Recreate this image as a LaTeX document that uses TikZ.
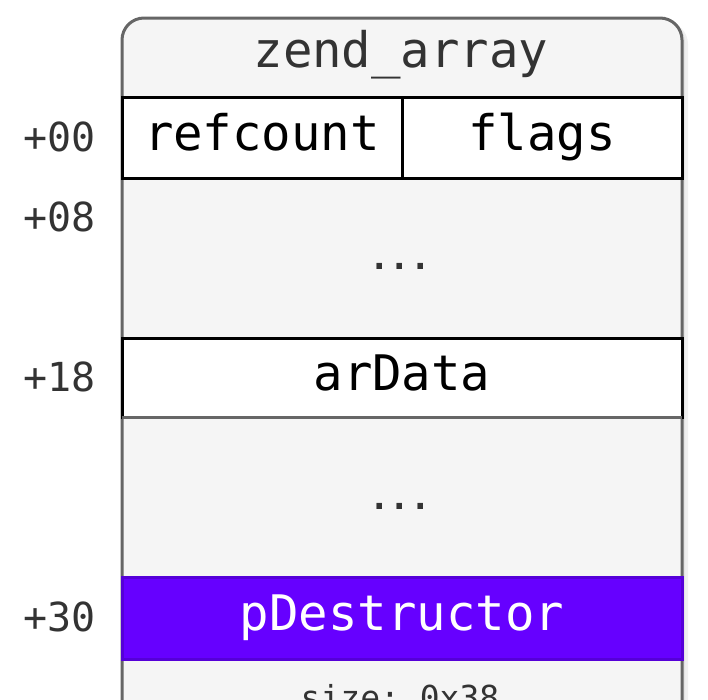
\documentclass[tikz,border=0pt]{standalone}
\usepackage{fontspec}
\setmonofont{DejaVu Sans Mono}
\begin{document}
\begin{tikzpicture}[x=1pt,y=-1pt,
  cell/.style={draw=black,line width=3pt,fill=white,minimum height=81pt,inner sep=0pt,outer sep=0pt,anchor=north west,
    text height=35pt,text depth=10pt,
    font=\ttfamily\fontsize{49}{52}\selectfont,text=black},
  offs/.style={anchor=east,inner sep=0pt,font=\ttfamily\fontsize{40}{44}\selectfont,text=txtgray},
  dots/.style={inner sep=0pt,font=\ttfamily\bfseries\fontsize{34}{38}\selectfont,text=txtgray}]
\definecolor{txtgray}{HTML}{333333}
\definecolor{boxgray}{HTML}{666666}
\definecolor{bgbox}{HTML}{F5F5F5}
\definecolor{purp}{HTML}{6600FF}
\definecolor{purpdark}{HTML}{5500D8}
\useasboundingbox (0,0) rectangle (708,699);
\clip (0,0) rectangle (708,699);
% shadow
\fill[black,opacity=0.06,rounded corners=22pt] (126,22) rectangle (688,780);
\fill[black,opacity=0.05,rounded corners=22pt] (124,20) rectangle (685,780);
% outer struct box
\draw[draw=boxgray,fill=bgbox,line width=3pt,rounded corners=22pt] (122,18) rectangle (682,780);
\node[font=\ttfamily\fontsize{49}{52}\selectfont,text=txtgray,inner sep=0pt] (title) at (401,55) {zend\_array};
% rows
\node[cell,minimum width=280pt] (refcount) at (122,97) {refcount};
\node[cell,minimum width=280pt] (flags) at (402,97) {flags};
\node[dots] (dots1) at (400,266) {...};
\node[cell,minimum width=560pt,minimum height=79pt] (ardata) at (122,338) {arData};
\draw[boxgray,line width=3pt] (ardata.south west) -- (ardata.south east);
\node[dots] (dots2) at (400,506) {...};
\node[cell,draw=purpdark,fill=purp,text=white,minimum width=560pt,minimum height=82pt] (pdestr) at (122,577) {pDestructor};
\node[inner sep=0pt,font=\ttfamily\fontsize{33}{36}\selectfont,text=txtgray] (size) at (400,697) {size: 0x38};
% offsets
\node[offs] (o00) at (96,137) {+00};
\node[offs] (o08) at (96,217) {+08};
\node[offs] (o18) at (96,377) {+18};
\node[offs] (o30) at (96,617) {+30};
\end{tikzpicture}
\end{document}
